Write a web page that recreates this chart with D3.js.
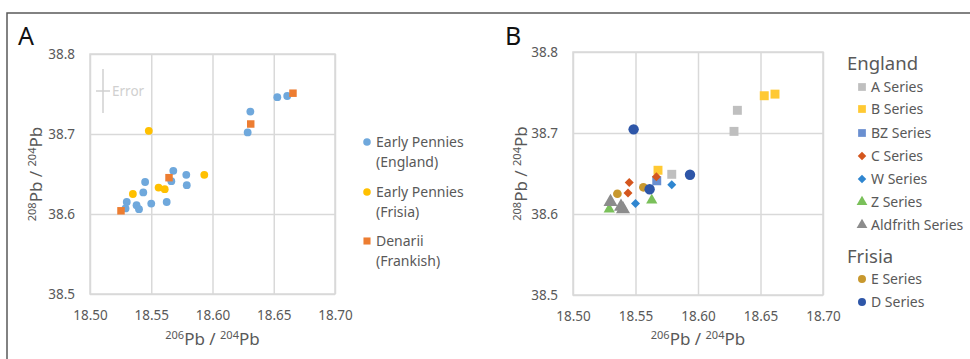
<!DOCTYPE html>
<html lang="en">
<head>
    <meta charset="UTF-8">
    <title>Pb isotope scatter</title>
    <style>
        body { margin: 0; background: #fff; }
        text { font-family: "Noto Sans", "Open Sans", sans-serif; }
    </style>
</head>
<body>
    <script src="https://cdn.jsdelivr.net/npm/d3@7"></script>
    <script>
        // ticks
        var xTicks = [18.50, 18.55, 18.60, 18.65, 18.70],
            yTicks = [38.5, 38.6, 38.7, 38.8];

        // panel A data  [206Pb/204Pb, 208Pb/204Pb]
        var penniesEngland = [
            [18.529, 38.607], [18.530, 38.615], [18.538, 38.611], [18.540, 38.606],
            [18.5435, 38.627], [18.545, 38.640], [18.550, 38.613], [18.5626, 38.615],
            [18.5664, 38.641], [18.568, 38.654], [18.5786, 38.649], [18.579, 38.636],
            [18.6287, 38.702], [18.6309, 38.728], [18.6529, 38.746], [18.661, 38.7475]
        ];
        var penniesFrisia = [
            [18.548, 38.704], [18.535, 38.625], [18.556, 38.633], [18.561, 38.631], [18.5933, 38.649]
        ];
        var denarii = [
            [18.5253, 38.604], [18.5645, 38.6454], [18.6312, 38.7125], [18.6657, 38.751]
        ];

        // panel B data
        var seriesA = [[18.579, 38.649], [18.6288, 38.702], [18.6315, 38.728]];
        var seriesB = [[18.653, 38.746], [18.6616, 38.748], [18.568, 38.654]];
        var seriesBZ = [[18.567, 38.641]];
        var seriesC = [[18.545, 38.639], [18.544, 38.626], [18.5667, 38.646]];
        var seriesW = [[18.550, 38.613], [18.579, 38.636]];
        var seriesZ = [[18.529, 38.606], [18.563, 38.617]];
        var seriesAldfrith = [[18.530, 38.615], [18.5384, 38.609], [18.540, 38.606]];
        var seriesE = [[18.5355, 38.625], [18.5563, 38.633]];
        var seriesD = [[18.5485, 38.7045], [18.5613, 38.6305], [18.5936, 38.6485]];

        var width = 970, height = 359,
            grey = '#595959', grid = '#d9d9d9';

        var svg = d3.select('body').append('svg')
            .attr('width', width)
            .attr('height', height);

        // outer frame
        svg.append('rect')
            .attr('x', 7).attr('y', 13)
            .attr('width', 1000).attr('height', 400)
            .attr('fill', 'none')
            .attr('stroke', '#595959')
            .attr('stroke-width', 1.5);

        // diamonds are squares turned by 45 degrees
        var symbols = {
            circle: d3.symbolCircle,
            square: d3.symbolSquare,
            diamond: d3.symbolSquare,
            triangle: d3.symbolTriangle
        };
        function rot(shape) {
            return shape === 'diamond' ? ' rotate(45)' : '';
        }

        function supText(sel, a, b) {
            // "206Pb / 204Pb" with superscripts
            sel.append('tspan').attr('font-size', 11).attr('dy', -6).text(a);
            sel.append('tspan').attr('font-size', 17).attr('dy', 6).text('Pb / ');
            sel.append('tspan').attr('font-size', 11).attr('dy', -6).text(b);
            sel.append('tspan').attr('font-size', 17).attr('dy', 6).text('Pb');
        }

        function panel(opt) {
            var g = svg.append('g');
            var x = d3.scaleLinear().domain([18.50, 18.70]).range([opt.left, opt.right]);
            var y = d3.scaleLinear().domain([38.5, 38.8]).range([opt.bottom, opt.top]);

            var xAxis = g.append('g')
                .attr('transform', 'translate(0,' + opt.bottom + ')')
                .call(d3.axisBottom(x).tickValues(xTicks).tickFormat(d3.format('.2f'))
                    .tickSize(-(opt.bottom - opt.top)).tickPadding(16));
            var yAxis = g.append('g')
                .attr('transform', 'translate(' + opt.left + ',0)')
                .call(d3.axisLeft(y).tickValues(yTicks).tickFormat(d3.format('.1f'))
                    .tickSize(-(opt.right - opt.left)).tickPadding(15));
            [xAxis, yAxis].forEach(function(a) {
                a.select('.domain').remove();
                a.selectAll('line').attr('stroke', grid).attr('stroke-width', 1.5);
                a.selectAll('text').attr('fill', grey).attr('font-size', 13.5)
                    .attr('font-family', '"Noto Sans", sans-serif');
            });
            g.append('rect')
                .attr('x', opt.left).attr('y', opt.top)
                .attr('width', opt.right - opt.left).attr('height', opt.bottom - opt.top)
                .attr('fill', 'none').attr('stroke', grid).attr('stroke-width', 1.5);

            // panel letter
            g.append('text')
                .attr('x', opt.labelX).attr('y', 45)
                .attr('font-size', 25).attr('fill', '#111')
                .text(opt.label);

            // axis titles
            g.append('text')
                .attr('x', (opt.left + opt.right) / 2).attr('y', 345)
                .attr('text-anchor', 'middle').attr('fill', grey)
                .call(supText, '206', '204');
            g.append('text')
                .attr('transform', 'translate(' + opt.yTitleX + ',' + ((opt.top + opt.bottom) / 2) + ') rotate(-90)')
                .attr('text-anchor', 'middle').attr('fill', grey)
                .call(supText, '208', '204');

            // points
            opt.series.forEach(function(s) {
                g.selectAll(null)
                    .data(s.data)
                    .enter()
                    .append('path')
                    .attr('transform', function(d) {
                        return 'translate(' + x(d[0]) + ',' + y(d[1]) + ')' + rot(s.shape);
                    })
                    .attr('d', d3.symbol().type(symbols[s.shape]).size(s.size))
                    .attr('fill', s.color);
            });
            return {g: g, x: x, y: y};
        }

        // ---- panel A
        var pa = panel({
            left: 90, right: 335, top: 54, bottom: 294,
            label: 'A', labelX: 18, yTitleX: 42,
            series: [
                {data: penniesEngland, shape: 'circle', color: '#6fa8dc', size: 48},
                {data: penniesFrisia, shape: 'circle', color: '#ffc000', size: 48},
                {data: denarii, shape: 'square', color: '#ed7d31', size: 56}
            ]
        });

        // error cross
        var err = pa.g.append('g').attr('stroke', '#d0d0d0').attr('stroke-width', 1.5);
        err.append('line').attr('x1', 103).attr('x2', 103).attr('y1', 69).attr('y2', 113);
        err.append('line').attr('x1', 96).attr('x2', 110).attr('y1', 91).attr('y2', 91);
        pa.g.append('text').attr('x', 112).attr('y', 96)
            .attr('font-size', 13.5).attr('fill', '#d0d0d0').text('Error');

        var legA = [
            {lines: ['Early Pennies', '(England)'], shape: 'circle', color: '#6fa8dc', y: 142},
            {lines: ['Early Pennies', '(Frisia)'], shape: 'circle', color: '#ffc000', y: 192},
            {lines: ['Denarii', '(Frankish)'], shape: 'square', color: '#ed7d31', y: 241}
        ];
        legA.forEach(function(l) {
            pa.g.append('path')
                .attr('transform', 'translate(367,' + l.y + ')')
                .attr('d', d3.symbol().type(symbols[l.shape]).size(l.shape === 'square' ? 50 : 45))
                .attr('fill', l.color);
            l.lines.forEach(function(t, i) {
                pa.g.append('text')
                    .attr('x', 376).attr('y', l.y + 5 + i * 19.5)
                    .attr('font-size', 14).attr('fill', grey)
                    .text(t);
            });
        });

        // ---- panel B
        var legB = [
            {name: 'A Series', data: seriesA, shape: 'square', color: '#bfbfbf', size: 80},
            {name: 'B Series', data: seriesB, shape: 'square', color: '#ffc933', size: 80},
            {name: 'BZ Series', data: seriesBZ, shape: 'square', color: '#6a8fd0', size: 80},
            {name: 'C Series', data: seriesC, shape: 'diamond', color: '#d4561e', size: 40},
            {name: 'W Series', data: seriesW, shape: 'diamond', color: '#2f86d0', size: 40},
            {name: 'Z Series', data: seriesZ, shape: 'triangle', color: '#7ac05a', size: 55},
            {name: 'Aldfrith Series', data: seriesAldfrith, shape: 'triangle', color: '#8c8c8c', size: 85},
            {name: 'E Series', data: seriesE, shape: 'circle', color: '#c8982e', size: 60},
            {name: 'D Series', data: seriesD, shape: 'circle', color: '#2e56a8', size: 85}
        ];
        var pb = panel({
            left: 573, right: 823, top: 52, bottom: 295,
            label: 'B', labelX: 505, yTitleX: 527,
            series: legB
        });

        var legY = [87, 109, 133, 156, 179, 202, 225, 279, 302];
        pb.g.append('text').attr('x', 847).attr('y', 70)
            .attr('font-size', 18.5).attr('fill', grey).text('England');
        pb.g.append('text').attr('x', 847).attr('y', 263)
            .attr('font-size', 18.5).attr('fill', grey).text('Frisia');
        legB.forEach(function(l, i) {
            var sz = l.shape === 'square' ? 60 : (l.shape === 'diamond' ? 36 : 50);
            pb.g.append('path')
                .attr('transform', 'translate(862,' + legY[i] + ')' + rot(l.shape))
                .attr('d', d3.symbol().type(symbols[l.shape]).size(sz))
                .attr('fill', l.color);
            pb.g.append('text')
                .attr('x', 871).attr('y', legY[i] + 5)
                .attr('font-size', 14).attr('fill', grey)
                .text(l.name);
        });
    </script>
</body>
</html>
